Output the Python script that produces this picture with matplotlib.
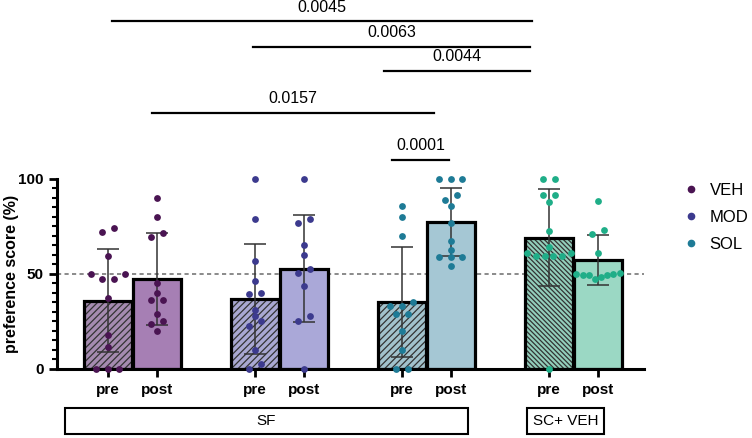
import numpy as np
import matplotlib
matplotlib.use('Agg')
import matplotlib.pyplot as plt
from matplotlib.lines import Line2D

plt.rcParams['font.family'] = ['Liberation Sans', 'DejaVu Sans']
plt.rcParams['hatch.linewidth'] = 0.9

# data
labels = ['pre', 'post', 'pre', 'post', 'pre', 'post', 'pre', 'post']
veh_pre = [74, 72, 59.5, 50, 50, 47.2, 47.2, 37.5, 17.7, 11.4, 0, 0, 0]
veh_post = [90, 80, 71.6, 69.5, 45, 40, 36.3, 36.3, 29, 25.4, 23.5, 20.2]
mod_pre = [100, 79, 56.7, 46.5, 39.8, 39.3, 31, 28, 25, 22.6, 10, 2.6, 0]
mod_post = [100, 78.8, 77, 65.3, 60, 52.5, 50.5, 43.9, 27.9, 25, 0]
sol_pre = [86, 80, 70, 35, 33.2, 33.2, 28.8, 28.8, 20, 10, 0, 0]
sol_post = [100, 100, 100, 91.8, 89, 86, 76.7, 67.5, 62.6, 58.8, 58.8, 58.8, 54.2]
sc_pre = [100, 100, 91.4, 91.4, 87.7, 72.8, 64.2, 61.2, 59.6, 59.6, 59.6, 59.6, 61.2, 0]
sc_post = [88.6, 73.2, 70.9, 61, 49.6, 50, 49.3, 50.2, 50.5, 49.3, 48.4, 47.5]
groups = [veh_pre, veh_post, mod_pre, mod_post, sol_pre, sol_post, sc_pre, sc_post]

# significance bars: (x0, x1, y, label)
sig_x0 = [0.08, 2.96, 5.63, 0.9, 5.8]
sig_x1 = [8.65, 8.61, 8.61, 6.65, 6.96]
sig_y = [183, 169.5, 156.8, 134.7, 110]
sig_txt = ['0.0045', '0.0063', '0.0044', '0.0157', '0.0001']

xpos = [0, 1, 3, 4, 6, 7, 9, 10]
face = ['#a58bb0', '#a67fb4', '#a9a8d2', '#aaa8d8', '#a2c2cc', '#a5c7d4', '#93cfbb', '#9bd8c4']
dotc = ['#4a1452', '#4a1452', '#3c3a8e', '#3c3a8e', '#1e7b96', '#1e7b96', '#1fae88', '#1fae88']
hatches = ['/////', None, '/////', None, '/////', None, '\\' * 7, None]


def swarm(vals, tol=2.9, s=0.235, span=0.88):
    # crude prism-like spread: group close values into rows
    v = np.sort(np.array(vals, dtype=float))
    rows = [[v[0]]]
    for a in v[1:]:
        if a - rows[-1][-1] < tol:
            rows[-1].append(a)
        else:
            rows.append([a])
    xs, ys = [], []
    for r in rows:
        n = len(r)
        step = s if n < 2 else min(s, span / (n - 1))
        offs = (np.arange(n) - (n - 1) / 2) * step
        order = np.argsort(np.abs(offs), kind='stable')
        for k, idx in enumerate(order):
            xs.append(offs[idx])
            ys.append(r[k])
    return np.array(xs), np.array(ys)


fig = plt.figure(figsize=(7.52, 4.38), dpi=100)
ax = fig.add_axes([57 / 752, 1 - 369 / 438, (644 - 57) / 752, 369 / 438])

means = [np.mean(g) for g in groups]
sds = [np.std(g, ddof=1) for g in groups]

for i in range(8):
    if hatches[i]:
        ax.bar(xpos[i], means[i], width=0.98, color=face[i], edgecolor='#333333',
               hatch=hatches[i], linewidth=0, zorder=2)
    else:
        ax.bar(xpos[i], means[i], width=0.98, color=face[i], linewidth=0, zorder=2)
    ax.bar(xpos[i], means[i], width=0.98, fill=False, edgecolor='black', linewidth=2.3, zorder=3)
    ax.errorbar(xpos[i], means[i], yerr=sds[i], color='#333333', lw=1.1,
                capsize=8, capthick=1.1, zorder=4)
    dx, dy = swarm(groups[i])
    ax.scatter(xpos[i] + dx, dy, s=24, color=dotc[i], zorder=5, clip_on=False, linewidths=0)

ax.axhline(50, color='#777777', ls=(0, (2.5, 2)), lw=1.2, zorder=1)

for x0, x1, y, t in zip(sig_x0, sig_x1, sig_y, sig_txt):
    ax.plot([x0, x1], [y, y], color='black', lw=1.6, clip_on=False)
    ax.text((x0 + x1) / 2, y + 3.5, t, ha='center', va='bottom', fontsize=11.5)

ax.set_xlim(-1.04, 10.94)
ax.set_ylim(0, 194.2)
for sp in ['top', 'right']:
    ax.spines[sp].set_visible(False)
ax.spines['left'].set_bounds(0, 100)
ax.spines['left'].set_linewidth(2.2)
ax.spines['bottom'].set_linewidth(2.2)
ax.set_yticks([0, 50, 100])
ax.set_yticks(np.arange(0, 101, 5), minor=True)
ax.tick_params(axis='y', which='major', length=6, width=2, labelsize=11)
ax.tick_params(axis='y', which='minor', length=3.5, width=1.5)
ax.set_xticks(xpos)
ax.set_xticklabels(labels, fontweight='bold', fontsize=11)
ax.tick_params(axis='x', length=6, width=2, pad=4)
for lab in ax.get_yticklabels():
    lab.set_fontweight('bold')
ax.set_ylabel('preference score (%)', fontweight='bold', fontsize=11.5, labelpad=2)
ax.yaxis.set_label_coords(-0.065, 50 / 194.2)

# group boxes under the axis
ax.add_patch(plt.Rectangle((65 / 752, 4 / 438), 403 / 752, 26 / 438, transform=fig.transFigure,
                           fill=False, edgecolor='black', lw=1.5, clip_on=False))
fig.text(266 / 752, 17 / 438, 'SF', ha='center', va='center', fontsize=11)
ax.add_patch(plt.Rectangle((527 / 752, 4 / 438), 77 / 752, 26 / 438, transform=fig.transFigure,
                           fill=False, edgecolor='black', lw=1.5, clip_on=False))
fig.text(565.5 / 752, 17 / 438, 'SC+ VEH', ha='center', va='center', fontsize=11)

handles = [Line2D([], [], ls='none', marker='o', ms=4.5, color=c) for c in ['#4a1452', '#3c3a8e', '#1e7b96']]
fig.legend(handles, ['VEH', 'MOD', 'SOL'], loc='upper left', bbox_to_anchor=(683 / 752, 1 - 183 / 438),
           frameon=False, fontsize=12, handlelength=1, handletextpad=0.6, labelspacing=0.72,
           borderaxespad=0, borderpad=0)

fig.savefig('out.png', dpi=100)
